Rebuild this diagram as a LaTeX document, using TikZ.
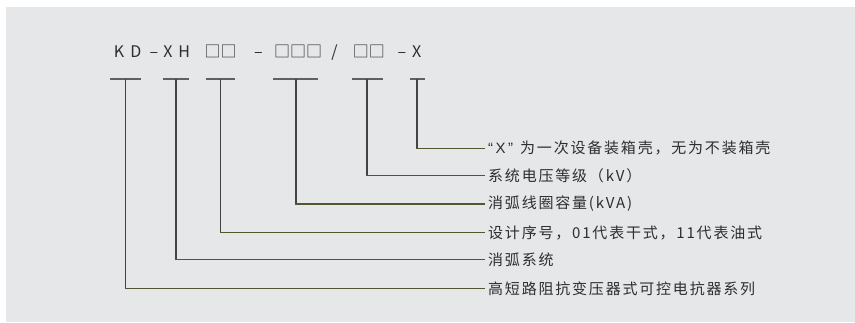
\documentclass[tikz,border=0pt]{standalone}
\usepackage{fontspec}
\setmainfont{Noto Sans CJK SC}
\newfontfamily\lab[LetterSpace=12]{Noto Sans CJK SC}
\newfontfamily\hdr{Noto Sans CJK SC}
\newfontfamily\latq{Liberation Sans}
\definecolor{bgc}{HTML}{E6E7E9}
\definecolor{txc}{HTML}{2E2E2E}
\definecolor{stc}{HTML}{444444}
\definecolor{hlc}{HTML}{55552F}
\tikzset{
  lbl/.style={anchor=west, inner xsep=3pt, inner ysep=0pt, text=txc, font=\lab\fontsize{15}{15}\selectfont},
  hch/.style={anchor=base, inner sep=0pt, text=txc, font=\hdr\fontsize{16}{16}\selectfont},
  barline/.style={draw=stc!85, line width=1.3pt},
  stemline/.style={draw=stc, line width=1.2pt},
  hline/.style={draw=hlc, line width=1.3pt},
}
\begin{document}
\begin{tikzpicture}[x=1pt,y=-1pt]
\useasboundingbox (0,0) rectangle (855,322);
\fill[bgc] (6,7) rectangle (855,322);
% header characters
\node[hch] (hK)  at (119,57.5) {K};
\node[hch] (hD)  at (136,57.5) {D};
\node[hch] (hd1) at (154,57.5) {–};
\node[hch] (hX)  at (168,57.5) {X};
\node[hch] (hH)  at (184.3,57.5) {H};
\node[hch] (hs2) at (220.5,57.5) {□□};
\node[hch] (hd2) at (258.3,57.5) {–};
\node[hch] (hs3) at (298,57.5) {□□□};
\node[hch] (hsl) at (334.5,57.5) {/};
\node[hch] (hs4) at (368.8,57.5) {□□};
\node[hch] (hd3) at (401.8,57.5) {–};
\node[hch] (hX2) at (416.7,57.5) {X};
% labels
\node[lbl] (t1) at (485,148.3) {{\latq\fontsize{15}{15}\selectfont “\kern2.5pt X\kern2.5pt ”\kern7pt}为一次设备装箱壳，无为不装箱壳};
\node[lbl] (t2) at (485,175.3) {系统电压等级（kV）};
\node[lbl] (t3) at (485,204) {消弧线圈容量(kVA)};
\node[lbl] (t4) at (485,232.7) {设计序号，01代表干式，11代表油式};
\node[lbl] (t5) at (485,259.3) {消弧系统};
\node[lbl] (t6) at (485,288.7) {高短路阻抗变压器式可控电抗器系列};
% bar coordinates
\coordinate (b1) at (125.7,79); \coordinate (l1) at (110,79); \coordinate (r1) at (140.7,79);
\coordinate (b2) at (176,79);   \coordinate (l2) at (163,79); \coordinate (r2) at (189,79);
\coordinate (b3) at (220.7,79); \coordinate (l3) at (205.7,79); \coordinate (r3) at (234.7,79);
\coordinate (b4) at (296,79);   \coordinate (l4) at (273,79); \coordinate (r4) at (318,79);
\coordinate (b5) at (367,79);   \coordinate (l5) at (352,79); \coordinate (r5) at (382.7,79);
\coordinate (b6) at (417,79);   \coordinate (l6) at (409.7,79); \coordinate (r6) at (425,79);
\foreach \i in {1,...,6} { \draw[barline] (l\i) -- (r\i); }
% connectors
\foreach \b/\t in {b1/t6,b2/t5,b3/t4,b4/t3,b5/t2,b6/t1} {
  \draw[stemline] (\b) -- (\b |- \t.west);
  \draw[hline] ([xshift=-0.6pt]\b |- \t.west) -- (\t.west);
}
\end{tikzpicture}
\end{document}
